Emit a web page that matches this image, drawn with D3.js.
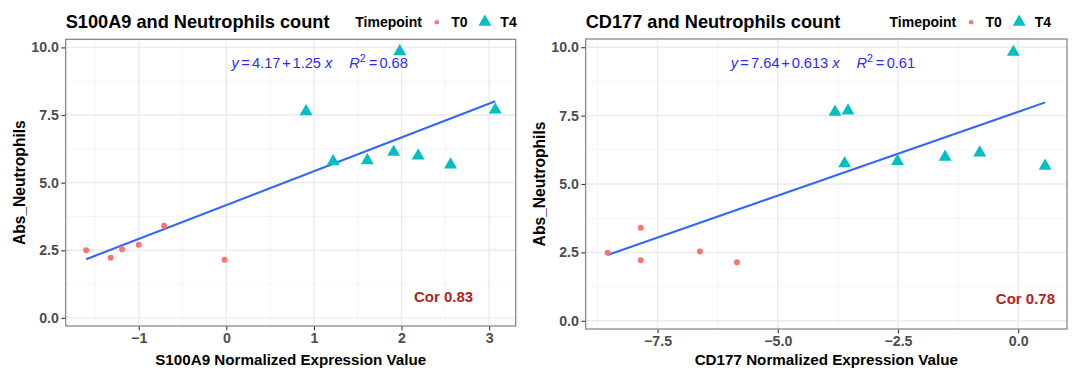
<!DOCTYPE html>
<html>
<head>
<meta charset="utf-8">
<script src="https://cdn.jsdelivr.net/npm/d3@7"></script>
<style>
  html, body { margin: 0; padding: 0; background: #fff; }
  svg { display: block; font-family: "Liberation Sans", Arial, Helvetica, sans-serif; }
</style>
</head>
<body>
<svg id="chart" width="1072" height="371"></svg>
<script>
// ---------------- DATA ----------------
const titles = ["S100A9 and Neutrophils count", "CD177 and Neutrophils count"];
const xTitles = ["S100A9 Normalized Expression Value", "CD177 Normalized Expression Value"];
const yTitle = "Abs_Neutrophils";
const legendTitle = "Timepoint";
const groups = ["T0", "T4"];

// S100A9 panel
const s100a9T0X = [-1.60, -1.32, -1.19, -1.00, -0.71, -0.02];
const s100a9T0Y = [2.50, 2.22, 2.54, 2.70, 3.41, 2.15];
const s100a9T4X = [1.22, 1.61, 1.91, 2.19, 2.56, 0.91, 1.98, 3.07];
const s100a9T4Y = [5.78, 5.82, 6.13, 5.99, 5.66, 7.63, 9.85, 7.69];

// CD177 panel
const cd177T0X = [-8.54, -7.85, -7.85, -6.62, -5.85];
const cd177T0Y = [2.49, 3.40, 2.21, 2.53, 2.14];
const cd177T4X = [-3.61, -2.51, -1.52, -0.80, 0.56, -3.81, -3.54, -0.10];
const cd177T4Y = [5.75, 5.83, 5.99, 6.14, 5.66, 7.63, 7.68, 9.82];

// fits & stats
const fitIntercept = [4.17, 7.64];
const fitSlope = [1.25, 0.613];
const fitIntText = ["4.17", "7.64"];
const fitSlopeText = ["1.25", "0.613"];
const r2Text = ["0.68", "0.61"];
const corText = ["0.83", "0.78"];

// ticks
const yTicks = [0, 2.5, 5, 7.5, 10];
const yMinor = [1.25, 3.75, 6.25, 8.75];
const s100a9XTicks = [-1, 0, 1, 2, 3];
const s100a9XMinor = [-1.5, -0.5, 0.5, 1.5, 2.5];
const cd177XTicks = [-7.5, -5, -2.5, 0];
const cd177XMinor = [-8.75, -6.25, -3.75, -1.25];

// annotation anchors (data coordinates)
const eqAnchorX = [0.06, -5.98];
const eqAnchorY = [9.23, 9.23];
const corAnchorX = [2.48, 0.15];
const corAnchorY = [0.58, 0.62];

// ---------------- LAYOUT ----------------
const panels = [
  { x0: 65.7, x1: 515.7, y0: 39.3, y1: 326.0, xDomain: [-1.8335, 3.3035],
    t0x: s100a9T0X, t0y: s100a9T0Y, t4x: s100a9T4X, t4y: s100a9T4Y,
    xTicks: s100a9XTicks, xMinor: s100a9XMinor, xFmt: d => d3.format("d")(d),
    legendRight: 516.7 },
  { x0: 585.7, x1: 1067.0, y0: 39.0, y1: 329.0, xDomain: [-8.995, 1.015],
    t0x: cd177T0X, t0y: cd177T0Y, t4x: cd177T4X, t4y: cd177T4Y,
    xTicks: cd177XTicks, xMinor: cd177XMinor, xFmt: d => d3.format(".1f")(d),
    legendRight: 1051 }
];
const yDomain = [-0.30, 10.30];
const colT0 = "#F8766D", colT4 = "#00BFC4";
const minus = s => s.replace(/-/g, "\u2212");

const svg = d3.select("#chart");

panels.forEach((p, i) => {
  const x = d3.scaleLinear().domain(p.xDomain).range([p.x0, p.x1]);
  const y = d3.scaleLinear().domain(yDomain).range([p.y1, p.y0]);
  const g = svg.append("g");

  g.append("rect").attr("x", p.x0).attr("y", p.y0)
    .attr("width", p.x1 - p.x0).attr("height", p.y1 - p.y0).attr("fill", "#fff");

  // minor grid
  g.selectAll(".mgx").data(p.xMinor).join("line")
    .attr("x1", d => x(d)).attr("x2", d => x(d)).attr("y1", p.y0).attr("y2", p.y1)
    .attr("stroke", "#F2F2F2").attr("stroke-width", 0.8);
  g.selectAll(".mgy").data(yMinor).join("line")
    .attr("y1", d => y(d)).attr("y2", d => y(d)).attr("x1", p.x0).attr("x2", p.x1)
    .attr("stroke", "#F2F2F2").attr("stroke-width", 0.8);
  // major grid
  g.selectAll(".Mgx").data(p.xTicks).join("line")
    .attr("x1", d => x(d)).attr("x2", d => x(d)).attr("y1", p.y0).attr("y2", p.y1)
    .attr("stroke", "#EBEBEB").attr("stroke-width", 1.4);
  g.selectAll(".Mgy").data(yTicks).join("line")
    .attr("y1", d => y(d)).attr("y2", d => y(d)).attr("x1", p.x0).attr("x2", p.x1)
    .attr("stroke", "#EBEBEB").attr("stroke-width", 1.4);

  // regression line over data range
  const allX = p.t0x.concat(p.t4x);
  const xr = d3.extent(allX);
  g.append("line")
    .attr("x1", x(xr[0])).attr("y1", y(fitIntercept[i] + fitSlope[i] * xr[0]))
    .attr("x2", x(xr[1])).attr("y2", y(fitIntercept[i] + fitSlope[i] * xr[1]))
    .attr("stroke", "#3366FF").attr("stroke-width", 2.1);

  // points T0
  g.selectAll(".t0").data(d3.range(p.t0x.length)).join("circle")
    .attr("cx", k => x(p.t0x[k])).attr("cy", k => y(p.t0y[k])).attr("r", 3)
    .attr("fill", colT0);
  // points T4
  const tri = d3.symbol().type(d3.symbolTriangle).size(72);
  g.selectAll(".t4").data(d3.range(p.t4x.length)).join("path")
    .attr("d", tri)
    .attr("transform", k => `translate(${x(p.t4x[k])},${y(p.t4y[k])})`)
    .attr("fill", colT4);

  // panel border
  g.append("rect").attr("x", p.x0).attr("y", p.y0)
    .attr("width", p.x1 - p.x0).attr("height", p.y1 - p.y0)
    .attr("fill", "none").attr("stroke", "#7F7F7F").attr("stroke-width", 1.2);

  // axes
  const yAxis = d3.axisLeft(y).tickValues(yTicks).tickSize(3.7).tickPadding(2.5)
    .tickFormat(d3.format(".1f"));
  const ya = g.append("g").attr("transform", `translate(${p.x0 - 0.6},0)`).call(yAxis);
  const xAxis = d3.axisBottom(x).tickValues(p.xTicks).tickSize(3.7).tickPadding(2.5)
    .tickFormat(d => minus(p.xFmt(d)));
  const xa = g.append("g").attr("transform", `translate(0,${p.y1 + 0.6})`).call(xAxis);
  [ya, xa].forEach(a => {
    a.select(".domain").remove();
    a.selectAll(".tick line").attr("stroke", "#333333").attr("stroke-width", 1.1);
    a.selectAll(".tick text").attr("fill", "#4D4D4D").attr("font-size", 14.2)
      .attr("font-weight", "bold").attr("font-family", "Liberation Sans, Arial, sans-serif");
  });

  // axis titles
  g.append("text").attr("x", (p.x0 + p.x1) / 2).attr("y", 365)
    .attr("text-anchor", "middle").attr("font-size", 15.2).attr("font-weight", "bold")
    .attr("fill", "#000").text(xTitles[i]);
  g.append("text")
    .attr("transform", `translate(${p.x0 - 40.7},${(p.y0 + p.y1) / 2}) rotate(-90)`)
    .attr("text-anchor", "middle").attr("font-size", 15.6).attr("font-weight", "bold")
    .attr("fill", "#000").text(yTitle);

  // title
  g.append("text").attr("x", p.x0).attr("y", 28.3)
    .attr("font-size", 18.2).attr("font-weight", "bold").attr("fill", "#000")
    .text(titles[i]);

  // legend, laid out right-to-left
  const lg = g.append("g").attr("font-size", 14).attr("font-weight", "bold").attr("fill", "#000");
  const legY = 27.3;
  const t4t = lg.append("text").attr("x", p.legendRight).attr("y", legY)
    .attr("text-anchor", "end").text(groups[1]);
  const t4w = t4t.node().getComputedTextLength();
  const triX = p.legendRight - t4w - 15.5;
  lg.append("path").attr("d", d3.symbol().type(d3.symbolTriangle).size(72))
    .attr("transform", `translate(${triX},22.0)`).attr("fill", colT4);
  const t0End = triX - 17.3;
  const t0t = lg.append("text").attr("x", t0End).attr("y", legY)
    .attr("text-anchor", "end").text(groups[0]);
  const t0w = t0t.node().getComputedTextLength();
  const dotX = t0End - t0w - 14.5;
  lg.append("circle").attr("cx", dotX).attr("cy", 22.3).attr("r", 2.3).attr("fill", colT0);
  lg.append("text").attr("x", dotX - 14.8).attr("y", legY)
    .attr("text-anchor", "end").text(legendTitle);

  // equation
  const eq = g.append("text").attr("x", x(eqAnchorX[i])).attr("y", y(eqAnchorY[i]))
    .attr("font-size", 14.6).attr("fill", "#2B2BFF");
  eq.append("tspan").attr("font-style", "italic").text("y");
  eq.append("tspan").attr("dx", 2.3).text("=");
  eq.append("tspan").attr("dx", 2.3).text(fitIntText[i]);
  eq.append("tspan").attr("dx", 1.8).text("+");
  eq.append("tspan").attr("dx", 1.8).text(fitSlopeText[i]);
  eq.append("tspan").attr("dx", 4).attr("font-style", "italic").text("x");
  eq.append("tspan").attr("dx", 17).attr("font-style", "italic").text("R");
  eq.append("tspan").attr("dy", -6).attr("font-size", 10.5).text("2");
  eq.append("tspan").attr("dy", 6).attr("dx", 3).text("=");
  eq.append("tspan").attr("dx", 2.3).text(r2Text[i]);

  // correlation
  g.append("text").attr("x", x(corAnchorX[i])).attr("y", y(corAnchorY[i]))
    .attr("text-anchor", "middle").attr("font-size", 15).attr("font-weight", "bold")
    .attr("fill", "#B22222").text("Cor " + corText[i]);
});
</script>
</body>
</html>
